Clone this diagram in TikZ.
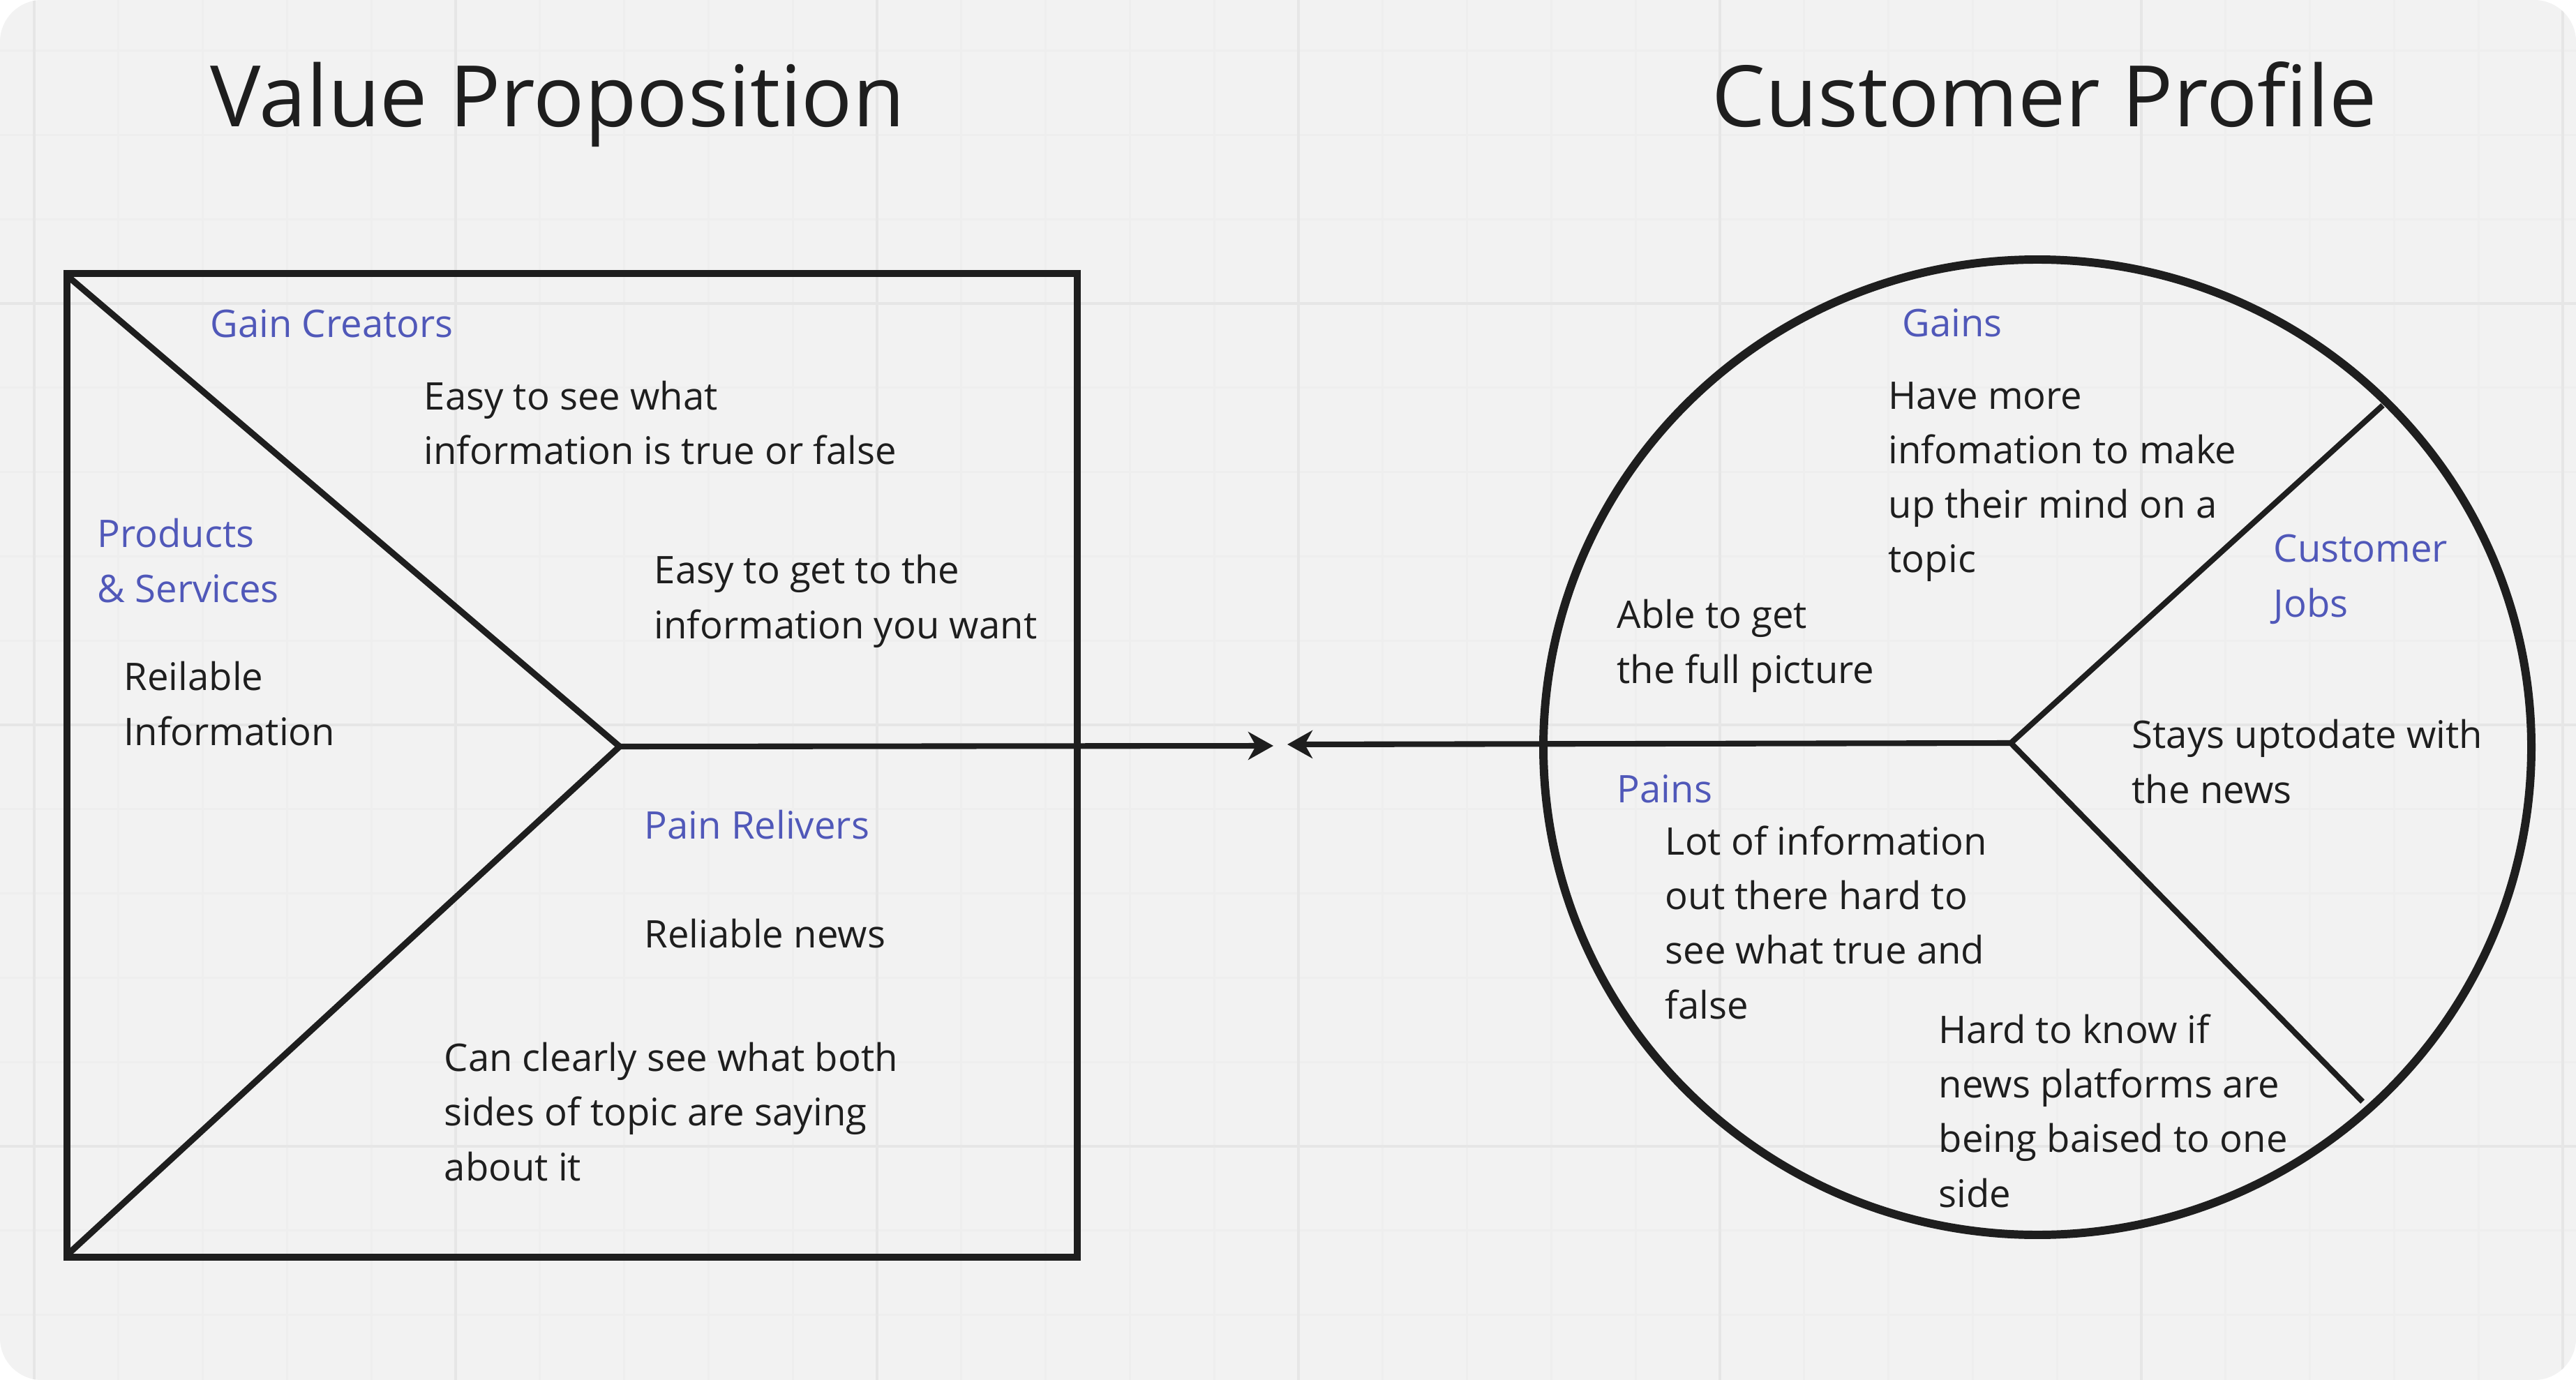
\documentclass[tikz,border=0pt]{standalone}
\usepackage{fontspec}
\setmainfont{Open Sans}
\usetikzlibrary{arrows.meta}
\definecolor{paper}{HTML}{F2F2F2}
\definecolor{gridmin}{HTML}{EEEEEE}
\definecolor{gridmaj}{HTML}{E6E6E6}
\definecolor{ink}{HTML}{1E1E1E}
\definecolor{tagblue}{RGB}{80,88,185}

\begin{document}
\begin{tikzpicture}[x=1cm, y=-1cm, >={Stealth[length=3.6mm,width=4mm,inset=1.1mm]},
    every node/.style={inner sep=0pt, anchor=base west, align=left, text=ink,
      font=\fontsize{15.5}{22.2}\selectfont},
    heading/.style={font=\fontsize{34.6}{42}\selectfont},
    tag/.style={text=tagblue}]
    % 背景（角の丸い灰色の紙と方眼）
    \useasboundingbox (0,0) rectangle (36.92,19.78);
    \fill[white] (0,0) rectangle (36.92,19.78);
    \begin{scope}
      \clip[rounded corners=0.6cm] (0,0) rectangle (36.92,19.78);
      \fill[paper] (0,0) rectangle (36.92,19.78);
      \foreach \g in {0,...,30} \draw[gridmin, line width=0.8pt] ({0.49+1.208*\g},0) -- ++(0,19.78);
      \foreach \g in {0,...,15} \draw[gridmin, line width=0.8pt] (0,{0.726+1.208*\g}) -- ++(36.92,0);
      \foreach \g in {0,...,6} \draw[gridmaj, line width=1.1pt] ({0.49+6.04*\g},0) -- ++(0,19.78);
      \foreach \g in {0,...,2} \draw[gridmaj, line width=1.1pt] (0,{4.35+6.04*\g}) -- ++(36.92,0);
    \end{scope}

    % 見出し
    \node[heading] (vptitle) at (3.01,1.82) {Value Proposition};
    \node[heading] (cptitle) at (24.53,1.82) {Customer Profile};

    % 左の四角（バリュー・プロポジション）
    \coordinate (vp) at (8.88,10.70);
    \draw[ink, line width=2.85pt] (0.96,3.92) rectangle (15.44,18.02);
    \draw[ink, line width=2.55pt, line join=miter] (0.96,3.95) -- (vp) -- (0.96,17.99);

    % 右の円（顧客プロフィール）
    \coordinate (cp) at (28.82,10.65);
    \draw[ink, line width=3.4pt] (29.20,10.71) ellipse [x radius=7.08, y radius=6.99];
    \draw[ink, line width=2.3pt, line join=miter] (34.15,5.81) -- (cp) -- (33.86,15.79);

    % 中央で向き合う矢印
    \coordinate (tipL) at (18.25,10.69);
    \coordinate (tipR) at (18.45,10.67);
    \draw[ink, line width=2.3pt, ->] (vp) -- (tipL);
    \draw[ink, line width=2.3pt, ->] (cp) -- (tipR);

    % 左側のテキスト（複数行は最終行のベースラインで置く）
    \node[tag] (gaincre) at (3.01,4.84) {Gain Creators};
    \node (easysee) at (6.07,6.66) {Easy to see what\\information is true or false};
    \node[tag] (prodserv) at (1.39,8.63) {Products\\\& Services};
    \node (easyget) at (9.37,9.15) {Easy to get to the\\information you want};
    \node (reilinfo) at (1.77,10.68) {Reilable\\Information};
    \node[tag] (painrel) at (9.23,12.02) {Pain Relivers};
    \node (relnews) at (9.23,13.58) {Reliable news};
    \node (bothsides) at (6.36,16.92) {Can clearly see what both\\sides of topic are saying\\about it};

    % 右側のテキスト
    \node[tag] (gains) at (27.26,4.83) {Gains};
    \node (moreinfo) at (27.06,8.21) {Have more\\infomation to make\\up their mind on a\\topic};
    \node[tag] (custjobs) at (32.58,8.84) {Customer\\Jobs};
    \node (fullpic) at (23.17,9.79) {Able to get\\the full picture};
    \node (uptodate) at (30.55,11.51) {Stays uptodate with\\the news};
    \node[tag] (pains) at (23.17,11.50) {Pains};
    \node (lotinfo) at (23.86,14.60) {Lot of information\\out there hard to\\see what true and\\false};
    \node (hardknow) at (27.78,17.30) {Hard to know if\\news platforms are\\being baised to one\\side};
  \end{tikzpicture}
\end{document}
